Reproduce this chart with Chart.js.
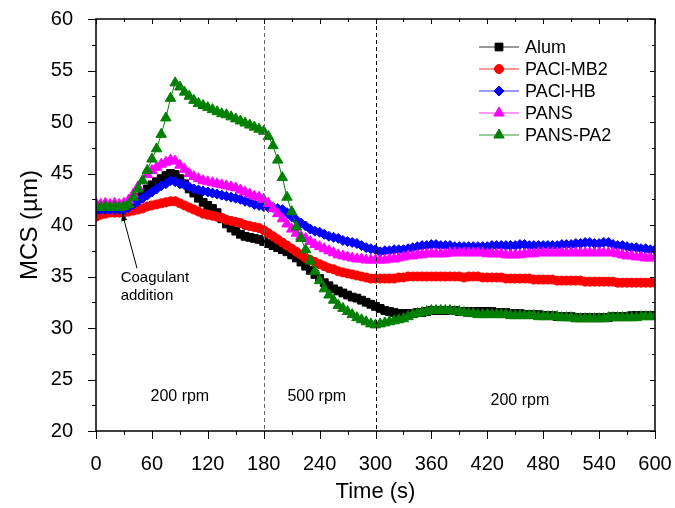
<!DOCTYPE html>
<html>
<head>
<meta charset="utf-8">
<script src="https://cdn.jsdelivr.net/npm/chart.js@4/dist/chart.umd.min.js"></script>
<style>
  html, body { margin: 0; padding: 0; background: #fff; }
  #chart { display: block; }
</style>
</head>
<body>
<canvas id="chart" width="675" height="508"></canvas>
<script>
// sampling times (s)
const times = [
    0, 5, 10, 15, 20, 25, 30, 35, 40, 45, 50, 55,
    60, 65, 70, 75, 80, 85, 90, 95, 100, 105, 110, 115,
    120, 125, 130, 135, 140, 145, 150, 155, 160, 165, 170, 175,
    180, 185, 190, 195, 200, 205, 210, 215, 220, 225, 230, 235,
    240, 245, 250, 255, 260, 265, 270, 275, 280, 285, 290, 295,
    300, 305, 310, 315, 320, 325, 330, 335, 340, 345, 350, 355,
    360, 365, 370, 375, 380, 385, 390, 395, 400, 405, 410, 415,
    420, 425, 430, 435, 440, 445, 450, 455, 460, 465, 470, 475,
    480, 485, 490, 495, 500, 505, 510, 515, 520, 525, 530, 535,
    540, 545, 550, 555, 560, 565, 570, 575, 580, 585, 590, 595,
    600
];

const alum = [
    41.5, 41.5, 41.6, 41.5, 41.6, 41.5, 41.6, 41.8, 42.2, 42.7, 43.1, 43.5,
    43.9, 44.2, 44.5, 44.8, 45.0, 44.9, 44.5, 44.0, 43.5, 43.1, 42.6, 42.2,
    41.9, 41.6, 41.2, 40.6, 40.1, 39.7, 39.4, 39.1, 38.9, 38.8, 38.7, 38.6,
    38.4, 38.2, 38.0, 37.8, 37.6, 37.4, 37.1, 36.8, 36.4, 36.0, 35.6, 35.2,
    34.8, 34.4, 34.1, 33.8, 33.6, 33.4, 33.2, 33.0, 32.9, 32.7, 32.5, 32.3,
    32.1, 31.9, 31.7, 31.6, 31.5, 31.4, 31.4, 31.4, 31.4, 31.5, 31.5, 31.6,
    31.7, 31.7, 31.7, 31.7, 31.7, 31.7, 31.6, 31.6, 31.6, 31.6, 31.6, 31.6,
    31.6, 31.6, 31.5, 31.5, 31.5, 31.4, 31.4, 31.4, 31.3, 31.3, 31.3, 31.3,
    31.2, 31.2, 31.2, 31.1, 31.1, 31.1, 31.1, 31.0, 31.0, 31.0, 31.0, 31.0,
    31.0, 31.0, 31.0, 31.1, 31.1, 31.1, 31.1, 31.2, 31.2, 31.2, 31.2, 31.2,
    31.2
];

const paclMB2 = [
    40.8, 41.0, 41.1, 41.2, 41.2, 41.2, 41.2, 41.3, 41.4, 41.5, 41.6, 41.8,
    41.9, 42.0, 42.1, 42.2, 42.3, 42.3, 42.1, 41.9, 41.7, 41.5, 41.3, 41.1,
    41.0, 40.9, 40.8, 40.7, 40.5, 40.4, 40.3, 40.2, 40.0, 39.9, 39.8, 39.7,
    39.5, 39.2, 38.9, 38.6, 38.3, 38.0, 37.7, 37.4, 37.1, 36.8, 36.6, 36.4,
    36.2, 36.0, 35.8, 35.7, 35.5, 35.4, 35.3, 35.2, 35.1, 35.0, 34.9, 34.8,
    34.8, 34.8, 34.8, 34.8, 34.8, 34.9, 34.9, 35.0, 35.0, 35.0, 35.0, 35.0,
    35.0, 35.0, 35.0, 35.0, 35.0, 35.0, 35.0, 34.9, 35.0, 35.0, 35.0, 34.9,
    34.9, 34.9, 34.9, 34.9, 34.8, 34.8, 34.8, 34.8, 34.8, 34.8, 34.7, 34.7,
    34.7, 34.7, 34.7, 34.6, 34.6, 34.6, 34.6, 34.6, 34.6, 34.5, 34.5, 34.5,
    34.5, 34.5, 34.5, 34.5, 34.4, 34.4, 34.4, 34.4, 34.4, 34.4, 34.4, 34.4,
    34.4
];

const paclHB = [
    41.4, 41.5, 41.5, 41.5, 41.5, 41.5, 41.5, 41.7, 42.0, 42.3, 42.6, 42.9,
    43.2, 43.5, 43.8, 44.0, 44.3, 44.2, 44.0, 43.9, 43.7, 43.5, 43.4, 43.3,
    43.2, 43.1, 43.0, 42.9, 42.8, 42.7, 42.6, 42.5, 42.3, 42.2, 42.0, 41.9,
    41.8, 41.7, 41.7, 41.6, 41.5, 41.2, 40.8, 40.5, 40.2, 39.9, 39.6, 39.4,
    39.3, 39.1, 38.9, 38.8, 38.7, 38.5, 38.4, 38.3, 38.2, 38.0, 37.8, 37.7,
    37.6, 37.4, 37.5, 37.5, 37.6, 37.6, 37.6, 37.7, 37.8, 37.9, 38.0, 38.0,
    38.1, 38.1, 38.0, 38.0, 38.0, 37.9, 37.9, 37.9, 37.9, 37.9, 37.9, 37.9,
    37.9, 38.0, 38.0, 38.0, 38.0, 38.0, 38.0, 38.1, 38.1, 38.0, 38.0, 38.0,
    38.0, 38.0, 38.0, 38.0, 38.1, 38.1, 38.1, 38.2, 38.2, 38.3, 38.3, 38.2,
    38.2, 38.3, 38.3, 38.1, 38.0, 38.0, 37.9, 37.8, 37.8, 37.7, 37.7, 37.6,
    37.6
];

const pans = [
    42.1, 42.0, 42.1, 42.0, 42.1, 42.0, 42.1, 42.4, 43.0, 43.7, 44.3, 44.9,
    45.3, 45.6, 45.9, 46.1, 46.3, 46.2, 45.8, 45.4, 45.0, 44.7, 44.5, 44.3,
    44.2, 44.1, 44.0, 43.9, 43.8, 43.7, 43.6, 43.4, 43.2, 43.0, 42.8, 42.7,
    42.5, 42.1, 41.6, 41.1, 40.6, 40.1, 39.6, 39.2, 38.9, 38.7, 38.4, 38.1,
    37.9, 37.7, 37.5, 37.3, 37.1, 37.0, 36.9, 36.8, 36.7, 36.7, 36.6, 36.6,
    36.6, 36.6, 36.6, 36.7, 36.7, 36.8, 36.9, 37.0, 37.0, 37.1, 37.1, 37.2,
    37.2, 37.2, 37.2, 37.2, 37.3, 37.3, 37.3, 37.3, 37.3, 37.3, 37.3, 37.3,
    37.2, 37.2, 37.2, 37.2, 37.1, 37.1, 37.1, 37.1, 37.2, 37.2, 37.2, 37.3,
    37.3, 37.3, 37.3, 37.3, 37.3, 37.3, 37.3, 37.3, 37.3, 37.3, 37.3, 37.3,
    37.3, 37.3, 37.3, 37.3, 37.2, 37.1, 37.0, 37.0, 36.9, 36.9, 36.8, 36.8,
    36.8
];

const pansPA2 = [
    41.8, 41.7, 41.8, 41.7, 41.8, 41.7, 41.8, 42.0, 42.7, 43.5, 44.3, 45.3,
    46.4, 47.4, 48.8, 50.4, 52.3, 53.8, 53.4, 52.9, 52.5, 52.1, 51.8, 51.6,
    51.4, 51.2, 51.0, 50.8, 50.7, 50.5, 50.3, 50.1, 49.9, 49.7, 49.5, 49.3,
    49.1, 48.6, 47.7, 46.3, 44.6, 42.7, 41.3, 39.8, 38.7, 37.6, 36.5, 35.5,
    34.6, 33.8, 33.2, 32.7, 32.2, 31.9, 31.6, 31.3, 31.0, 30.8, 30.6, 30.4,
    30.3, 30.4, 30.5, 30.6, 30.7, 30.8, 30.9, 31.1, 31.3, 31.4, 31.5, 31.6,
    31.7, 31.7, 31.7, 31.7, 31.7, 31.6, 31.6, 31.5, 31.4, 31.4, 31.3, 31.3,
    31.3, 31.3, 31.3, 31.3, 31.3, 31.2, 31.2, 31.2, 31.2, 31.2, 31.2, 31.1,
    31.1, 31.1, 31.1, 31.1, 31.0, 31.0, 31.0, 30.9, 30.9, 30.9, 30.9, 30.9,
    30.9, 30.9, 31.0, 31.0, 31.0, 31.0, 31.0, 31.0, 31.0, 31.1, 31.1, 31.1,
    31.1
];

const seriesNames = ['Alum', 'PACl-MB2', 'PACl-HB', 'PANS', 'PANS-PA2'];
const xTicks = [0, 60, 120, 180, 240, 300, 360, 420, 480, 540, 600];
const yTicks = [20, 25, 30, 35, 40, 45, 50, 55, 60];
const phaseLines = [180, 300];
const phaseLabels = ['200 rpm', '500 rpm', '200 rpm'];

const FONT = '"Liberation Sans", Arial, sans-serif';

const styles = [
    { color: '#000000', point: 'rect', radius: 5.5 },
    { color: '#ff0000', point: 'circle', radius: 4.5 },
    { color: '#0000ff', point: 'rectRot', radius: 5 },
    { color: '#ff00ff', point: 'triangle', radius: 6 },
    { color: '#008000', point: 'triangle', radius: 6 }
];

const values = [alum, paclMB2, paclHB, pans, pansPA2];

const datasets = values.map((v, i) => ({
    label: seriesNames[i],
    data: v,
    borderColor: styles[i].color,
    backgroundColor: styles[i].color,
    borderWidth: 1,
    pointStyle: styles[i].point,
    pointRadius: styles[i].radius,
    pointBorderWidth: 1,
    order: values.length - i
}));

// keep the plot area exactly where the layout padding puts it
function noOverhang(scale) {
    scale.paddingLeft = 0;
    scale.paddingRight = 0;
    scale.paddingTop = 0;
    scale.paddingBottom = 0;
}

// frame, minor ticks, phase lines, annotations and legend
const decorations = {
    id: 'decorations',
    afterDatasetsDraw(chart) {
        const { ctx, chartArea: a, scales: { x, y } } = chart;
        ctx.save();

        // dashed phase separators
        ctx.lineWidth = 1;
        ctx.setLineDash([4, 3]);
        phaseLines.forEach((t, i) => {
            const px = Math.round(x.getPixelForValue(t)) + 0.5;
            ctx.strokeStyle = i === 0 ? '#666' : '#000';
            ctx.beginPath();
            ctx.moveTo(px, a.top);
            ctx.lineTo(px, a.bottom);
            ctx.stroke();
        });
        ctx.setLineDash([]);

        // frame
        ctx.strokeStyle = '#000';
        ctx.lineWidth = 1.5;
        ctx.strokeRect(a.left, a.top, a.right - a.left, a.bottom - a.top);

        // ticks
        ctx.lineWidth = 1;
        ctx.beginPath();
        for (let t = 0; t <= 600; t += 30) {
            const px = Math.round(x.getPixelForValue(t)) + 0.5;
            const major = xTicks.includes(t);
            const len = major ? 8 : 4;
            ctx.moveTo(px, a.bottom); ctx.lineTo(px, a.bottom + len);
            ctx.moveTo(px, a.top); ctx.lineTo(px, a.top + (major ? 5 : 3));
        }
        for (let v = 20; v <= 60; v += 2.5) {
            const py = Math.round(y.getPixelForValue(v)) + 0.5;
            const major = yTicks.includes(v);
            const len = major ? 8 : 4;
            ctx.moveTo(a.left, py); ctx.lineTo(a.left - len, py);
            ctx.moveTo(a.right, py); ctx.lineTo(a.right - (major ? 5 : 3), py);
        }
        ctx.stroke();

        // phase labels
        ctx.fillStyle = '#000';
        ctx.font = '16px ' + FONT;
        ctx.textAlign = 'center';
        ctx.textBaseline = 'middle';
        ctx.fillText(phaseLabels[0], x.getPixelForValue(90), y.getPixelForValue(23.3));
        ctx.fillText(phaseLabels[1], x.getPixelForValue(237), y.getPixelForValue(23.3));
        ctx.fillText(phaseLabels[2], x.getPixelForValue(455), y.getPixelForValue(23.0));

        // coagulant addition arrow
        const tipX = x.getPixelForValue(28), tipY = y.getPixelForValue(41.2);
        const tailX = x.getPixelForValue(44), tailY = y.getPixelForValue(35.8);
        const ang = Math.atan2(tipY - tailY, tipX - tailX);
        ctx.beginPath();
        ctx.moveTo(tailX, tailY);
        ctx.lineTo(tipX, tipY);
        ctx.stroke();
        ctx.beginPath();
        ctx.moveTo(tipX, tipY);
        ctx.lineTo(tipX - 9 * Math.cos(ang - 0.35), tipY - 9 * Math.sin(ang - 0.35));
        ctx.lineTo(tipX - 9 * Math.cos(ang + 0.35), tipY - 9 * Math.sin(ang + 0.35));
        ctx.closePath();
        ctx.fill();

        ctx.font = '15px ' + FONT;
        ctx.textAlign = 'left';
        ctx.fillText('Coagulant', x.getPixelForValue(26.5), y.getPixelForValue(34.9));
        ctx.fillText('addition', x.getPixelForValue(26.5), y.getPixelForValue(33.1));

        // legend
        const rows = [47, 69, 91, 113, 135];
        ctx.font = '18px ' + FONT;
        datasets.forEach((ds, i) => {
            const ly = rows[i];
            ctx.strokeStyle = ds.borderColor;
            ctx.globalAlpha = 0.8;
            ctx.beginPath();
            ctx.moveTo(479, ly);
            ctx.lineTo(519, ly);
            ctx.stroke();
            ctx.globalAlpha = 1;
            ctx.fillStyle = ds.backgroundColor;
            Chart.helpers.drawPoint(ctx, {
                pointStyle: ds.pointStyle,
                radius: ds.pointRadius,
                rotation: 0,
                borderWidth: 1
            }, 499, ly);
            ctx.fillStyle = '#000';
            ctx.fillText(ds.label, 525, ly + 1);
        });

        ctx.restore();
    }
};

const config = {
    type: 'line',
    data: {
        labels: times,
        datasets: datasets
    },
    options: {
        responsive: false,
        animation: false,
        layout: {
            padding: { top: 19, right: 20, left: 0, bottom: 0 }
        },
        plugins: {
            legend: { display: false },
            tooltip: { enabled: false }
        },
        scales: {
            x: {
                type: 'linear',
                min: 0,
                max: 600,
                afterFit: (scale) => { scale.height = 77; noOverhang(scale); },
                grid: { display: false },
                border: { display: false },
                ticks: {
                    stepSize: 60,
                    padding: 13,
                    color: '#000',
                    font: { family: FONT, size: 20 }
                },
                afterBuildTicks: (scale) => { scale.ticks = xTicks.map(v => ({ value: v })); },
                title: {
                    display: true,
                    text: 'Time (s)',
                    color: '#000',
                    font: { family: FONT, size: 22 },
                    padding: { top: 0, bottom: 3 }
                }
            },
            y: {
                min: 20,
                max: 60,
                afterFit: (scale) => { scale.width = 96; noOverhang(scale); },
                grid: { display: false },
                border: { display: false },
                ticks: {
                    stepSize: 5,
                    padding: 15,
                    color: '#000',
                    font: { family: FONT, size: 20 }
                },
                afterBuildTicks: (scale) => { scale.ticks = yTicks.map(v => ({ value: v })); },
                title: {
                    display: true,
                    text: 'MCS (µm)',
                    color: '#000',
                    font: { family: FONT, size: 24 },
                    padding: { top: 16, bottom: 0 }
                }
            }
        }
    },
    plugins: [decorations]
};

new Chart(document.getElementById('chart'), config);
</script>
</body>
</html>
